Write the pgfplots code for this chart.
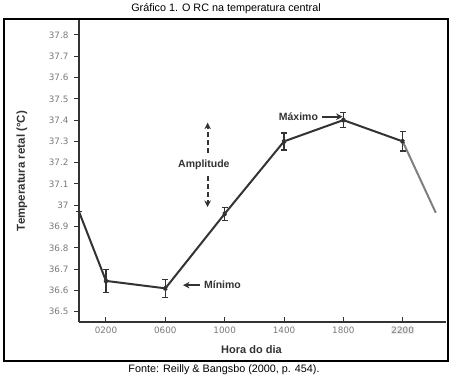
\documentclass[border=0pt]{standalone}
\usepackage{pgfplots}
\pgfplotsset{compat=1.18}
\usepackage{fontspec}
\setmainfont{Liberation Sans}
\newfontfamily\dejavu{DejaVu Sans}
\usetikzlibrary{arrows.meta}
\definecolor{ink}{HTML}{333333}
\definecolor{tickgray}{HTML}{7A7A7A}
\begin{document}
\begin{tikzpicture}
\useasboundingbox (0,0) rectangle (456bp,376bp);
\fill[white] (0,0) rectangle (456bp,376bp);
\begin{axis}[
  at={(79bp,54bp)}, anchor=south west,
  scale only axis, width=367bp, height=302bp,
  xmin=0.18, xmax=24.92, ymin=36.452, ymax=37.87,
  axis x line=bottom, axis y line=left,
  axis line style={-, ink, line width=1.3bp},
  xtick={2,6,10,14,18,22},
  xticklabels={0200,0600,1000,1400,1800,{\setlength{\fboxsep}{0.6bp}\colorbox{gray!14}{2200}}},
  ytick={36.5,36.6,...,37.85},
  yticklabel style={/pgf/number format/fixed, /pgf/number format/precision=1, xshift=-2bp},
  /pgf/number format/assume math mode=true,
  ticklabel style={font=\dejavu\fontsize{8.8bp}{10bp}\selectfont, text=tickgray},
  x tick style={ink, line width=1bp},
  y tick style={ink, line width=1bp},
  xtick align=inside, ytick align=outside,
  major tick length=5bp,
  xticklabel style={yshift=-1bp},
  xlabel={\bfseries Hora do dia},
  xlabel style={at={(rel axis cs:0.47,0)}, anchor=center, yshift=-28bp, font=\fontsize{11bp}{13bp}\selectfont, text=ink},
  ylabel={\bfseries Temperatura retal (°C)},
  ylabel style={at={(rel axis cs:0,0.5)}, anchor=center, rotate=0, yshift=57bp, font=\fontsize{11.5bp}{13bp}\selectfont, text=ink},
  clip=false,
]
\addplot[ink, line width=2bp, mark=x, mark size=2.2bp,
  mark repeat=1, mark phase=2,
  error bars/.cd, y dir=both, y explicit,
  error bar style={ink, line width=1.3bp},
  error mark options={ink, line width=1.3bp, mark size=3bp, rotate=90}]
coordinates {
  (0.18,36.97) +- (0,0)
  (2,36.645) +- (0,0.055)
  (6,36.61) +- (0,0.042)
  (10,36.96) +- (0,0.03)
  (14,37.30) +- (0,0.04)
  (18,37.40) +- (0,0.035)
  (22,37.30) +- (0,0.045)
};
\addplot[color=gray, line width=2bp] coordinates {(22,37.30) (24.23,36.965)};
% annotations
\draw[ink, line width=1.7bp, -{Stealth[length=6.5bp,width=6.5bp]}] (axis cs:8.34,36.625) -- (axis cs:7.19,36.625);
\node[anchor=west, text=ink, font=\bfseries\fontsize{10.5bp}{12bp}\selectfont, inner sep=0pt] at (axis cs:8.6,36.625) {Mínimo};
\node[anchor=east, text=ink, font=\bfseries\fontsize{10.5bp}{12bp}\selectfont, inner sep=0pt] at (axis cs:16.3,37.416) {Máximo};
\draw[ink, line width=1.7bp, -{Stealth[length=6.5bp,width=6.5bp]}] (axis cs:16.56,37.416) -- (axis cs:17.95,37.416);
\node[text=ink, font=\bfseries\fontsize{10.5bp}{12bp}\selectfont, inner sep=0pt] at (axis cs:8.6,37.189) {Amplitude};
\draw[ink, line width=2bp, dash pattern=on 5bp off 3bp, -{Stealth[length=6.5bp,width=6.5bp]}] (axis cs:8.85,37.245) -- (axis cs:8.85,37.388);
\draw[ink, line width=2bp, dash pattern=on 5bp off 3bp, -{Stealth[length=6.5bp,width=6.5bp]}] (axis cs:8.85,37.138) -- (axis cs:8.85,36.992);
\end{axis}
\draw[black, line width=1.6bp] (4bp,15bp) rectangle (448bp,357bp);
\node[font=\fontsize{10.8bp}{12bp}\selectfont] at (226bp,367.5bp) {Gráfico 1. O RC na temperatura central};
\node[font=\fontsize{10.8bp}{12bp}\selectfont] at (224bp,6.5bp) {Fonte: Reilly \& Bangsbo (2000, p. 454).};
\end{tikzpicture}
\end{document}
